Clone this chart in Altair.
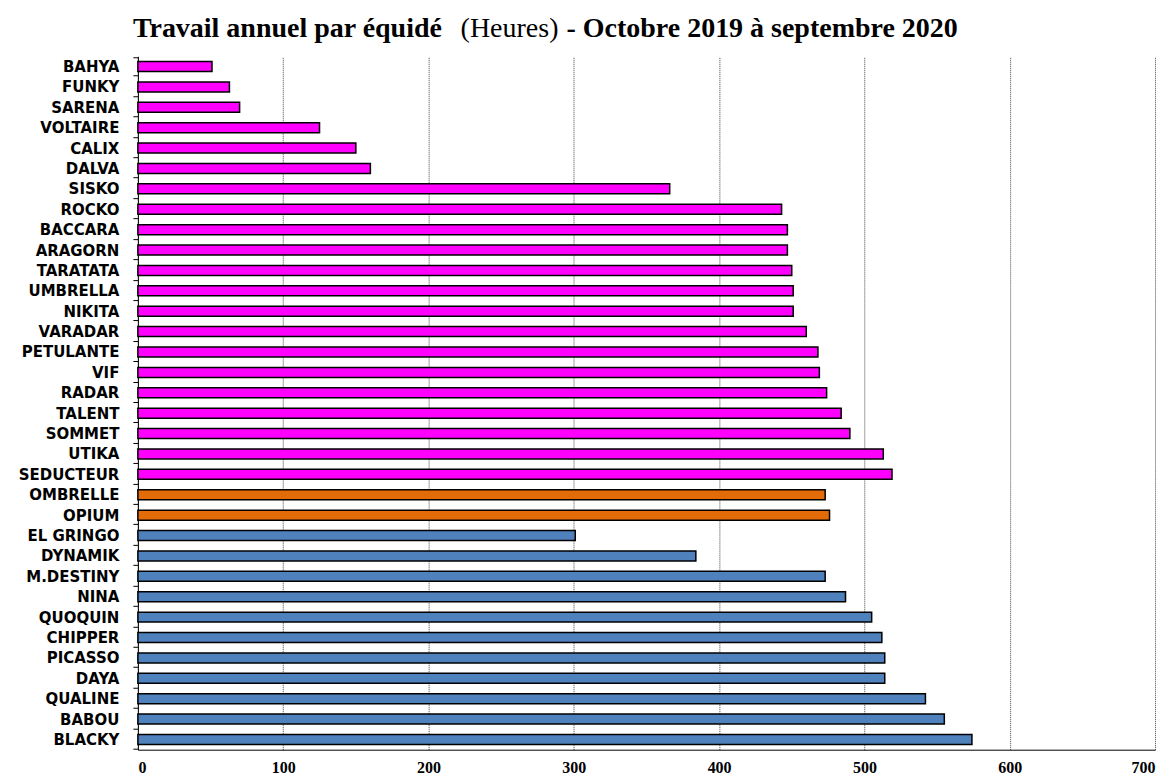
import altair as alt
import pandas as pd

names = ["BAHYA", "FUNKY", "SARENA", "VOLTAIRE", "CALIX", "DALVA", "SISKO", "ROCKO",
         "BACCARA", "ARAGORN", "TARATATA", "UMBRELLA", "NIKITA", "VARADAR", "PETULANTE",
         "VIF", "RADAR", "TALENT", "SOMMET", "UTIKA", "SEDUCTEUR", "OMBRELLE", "OPIUM",
         "EL GRINGO", "DYNAMIK", "M.DESTINY", "NINA", "QUOQUIN", "CHIPPER", "PICASSO",
         "DAYA", "QUALINE", "BABOU", "BLACKY"]
hours = [51, 63, 70, 125, 150, 160, 366, 443,
         447, 447, 450, 451, 451, 460, 468,
         469, 474, 484, 490, 513, 519, 473, 476,
         301, 384, 473, 487, 505, 512, 514,
         514, 542, 555, 574]
groups = ["A"] * 21 + ["B"] * 2 + ["C"] * 11
group_domain = ["A", "B", "C"]
group_colors = ["#FF00FF", "#E36C09", "#4F81BD"]
x_ticks = [0, 100, 200, 300, 400, 500, 600, 700]

title_bold_1 = "Travail annuel par équidé"
title_regular = "(Heures)"
title_bold_2 = "- Octobre 2019 à septembre 2020"

df = pd.DataFrame({"name": names, "hours": hours, "group": groups})

bars = alt.Chart(df).mark_bar(size=10, stroke="black", strokeWidth=1.5).encode(
    y=alt.Y("name:N", sort=names, title=None,
            axis=alt.Axis(labelFont="DejaVu Sans", labelFontWeight="bold", labelFontSize=15,
                          labelColor="black", domainColor="black", domainWidth=1,
                          tickColor="black", tickSize=5, tickBand="extent",
                          labelPadding=14, grid=False)),
    x=alt.X("hours:Q", title=None, scale=alt.Scale(domain=[0, 700], nice=False),
            axis=alt.Axis(values=x_ticks, format="d", labelFont="Liberation Serif",
                          labelFontWeight="bold", labelFontSize=16, labelColor="black",
                          domainColor="black", domainWidth=1, ticks=False,
                          labelPadding=10, grid=True, gridColor="#444444",
                          gridDash=[1, 1], gridWidth=1)),
    color=alt.Color("group:N", scale=alt.Scale(domain=group_domain, range=group_colors),
                    legend=None),
)

def title_piece(text, x, weight):
    return alt.Chart(pd.DataFrame({"t": [text]})).mark_text(
        align="left", baseline="alphabetic", font="Liberation Serif",
        fontSize=28, fontWeight=weight, color="black"
    ).encode(text="t:N", x=alt.value(x), y=alt.value(-19))

t1 = title_piece(title_bold_1, -5, "bold")
t2 = title_piece(title_regular, 323, "normal")
t3 = title_piece(title_bold_2, 429, "bold")

chart = alt.layer(bars, t1, t2, t3).properties(
    width=1018, height=694,
    autosize=alt.AutoSizeParams(type="none"),
    padding={"left": 130, "top": 48, "right": 10, "bottom": 25},
).configure_view(stroke=None)

chart.save("out.html", embed_options={"renderer": "svg", "actions": False})
